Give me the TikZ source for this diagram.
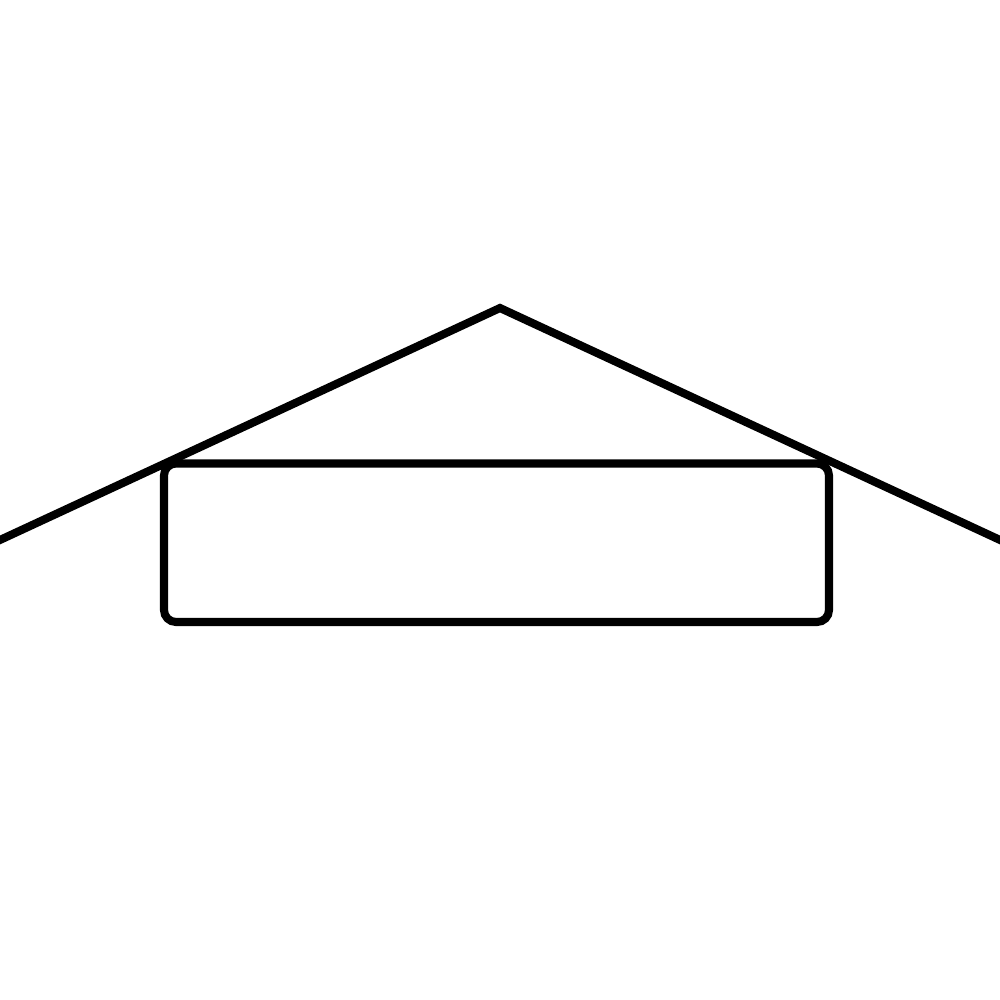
\documentclass[tikz,border=0pt]{standalone}
\usepackage{tikz}
\usetikzlibrary{positioning,calc}
\definecolor{Ink}{HTML}{000000}
\tikzset{outline/.style={Ink,line width=2.3pt,line join=miter}}
\begin{document}
\begin{tikzpicture}[x=0.01cm,y=-0.01cm]
\useasboundingbox (0,0) rectangle (1000,1000);
\begin{scope}
\clip (0,0) rectangle (1000,1000);
% roof
\draw[outline] (-10,544.6) -- (500,308) -- (1010,544.6);
\end{scope}
% box
\draw[outline,rounded corners=0.12cm] (164,463.5) rectangle (829,622);
\end{tikzpicture}
\end{document}
